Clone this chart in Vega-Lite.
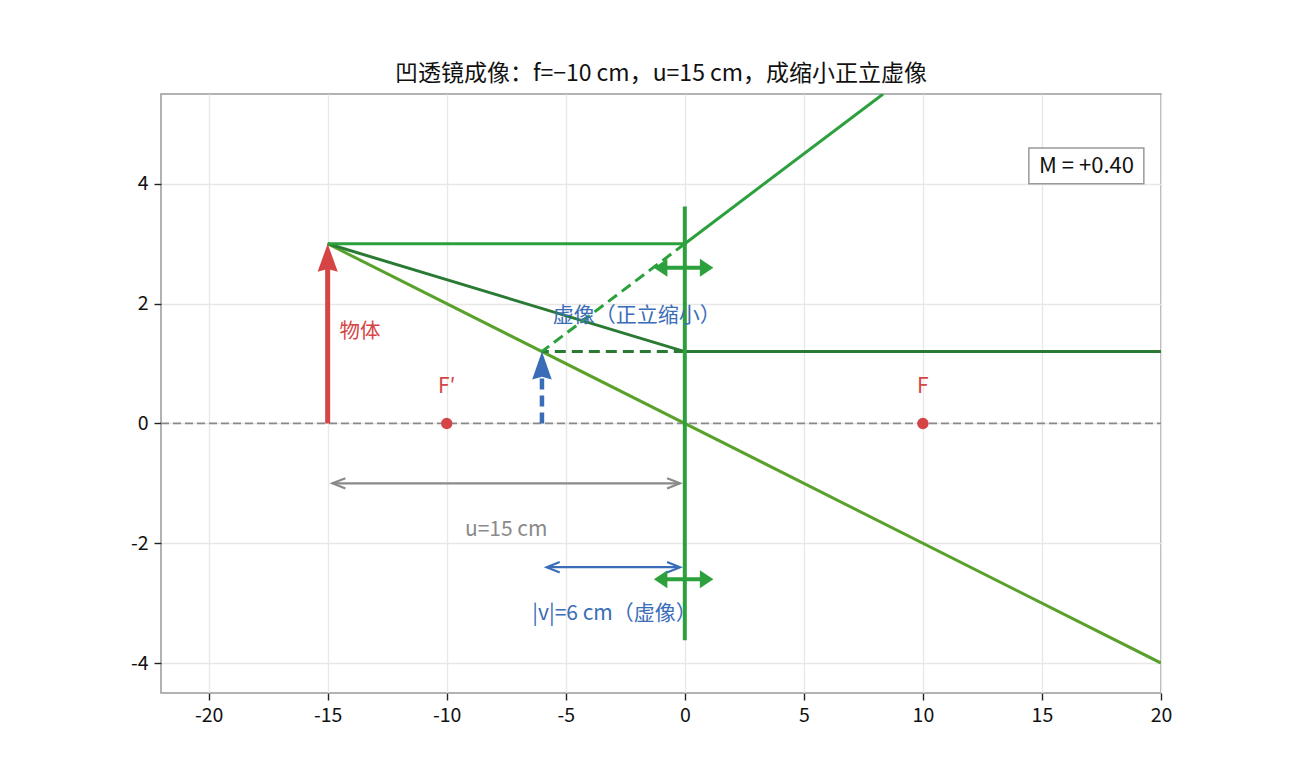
{
  "$schema": "https://vega.github.io/schema/vega-lite/v6.json",
  "width": 1000,
  "height": 599,
  "autosize": "none",
  "padding": {"left": 161, "top": 94, "right": 129, "bottom": 87},
  "background": "white",
  "title": {
    "text": "凹透镜成像：f=−10 cm，u=15 cm，成缩小正立虚像",
    "font": "Noto Sans CJK SC",
    "fontSize": 23,
    "fontWeight": "normal",
    "color": "#111111",
    "offset": 8,
    "anchor": "middle"
  },
  "config": {
    "view": {"stroke": "#999999", "strokeWidth": 1.5},
    "axis": {
      "domain": false,
      "grid": true,
      "gridColor": "#e8e8e8",
      "gridWidth": 1.4,
      "tickColor": "#222222",
      "tickSize": 7,
      "tickWidth": 1.4,
      "labelFont": "Noto Sans CJK SC",
      "labelFontSize": 19.5,
      "labelColor": "#111111",
      "labelPadding": 6,
      "labelFlush": false,
      "title": null
    },
    "text": {"font": "Noto Sans CJK SC"}
  },
  "datasets": {
    "segs": [
      {"id": "axis", "x": -22, "y": 0, "x2": 20, "y2": 0},
      {"id": "par", "x": -15, "y": 3, "x2": 0, "y2": 3},
      {"id": "par", "x": 0, "y": 3, "x2": 8.33, "y2": 5.5},
      {"id": "parExt", "x": 0, "y": 3, "x2": -6, "y2": 1.2},
      {"id": "foc", "x": -15, "y": 3, "x2": 0, "y2": 1.2},
      {"id": "foc", "x": 0, "y": 1.2, "x2": 20, "y2": 1.2},
      {"id": "focExt", "x": 0, "y": 1.2, "x2": -6, "y2": 1.2},
      {"id": "cen", "x": -15, "y": 3, "x2": 20, "y2": -4},
      {"id": "lens", "x": 0, "y": 3.62, "x2": 0, "y2": -3.62},
      {"id": "lensArrow", "x": -1.1, "y": 2.6, "x2": 1.0, "y2": 2.6},
      {"id": "lensArrow", "x": -1.1, "y": -2.6, "x2": 1.0, "y2": -2.6},
      {"id": "obj", "x": -15, "y": 0, "x2": -15, "y2": 2.7},
      {"id": "img", "x": -6, "y": 0, "x2": -6, "y2": 0.9},
      {"id": "u", "x": -14.8, "y": -1, "x2": -0.2, "y2": -1},
      {"id": "v", "x": -5.8, "y": -2.4, "x2": -0.2, "y2": -2.4}
    ],
    "heads": [
      {"id": "obj", "x": -15, "y": 3},
      {"id": "img", "x": -6, "y": 1.2},
      {"id": "lensL", "x": -1.3, "y": 2.6},
      {"id": "lensR", "x": 1.2, "y": 2.6},
      {"id": "lensL", "x": -1.3, "y": -2.6},
      {"id": "lensR", "x": 1.2, "y": -2.6},
      {"id": "uL", "x": -14.8, "y": -1},
      {"id": "uR", "x": -0.2, "y": -1},
      {"id": "vL", "x": -5.8, "y": -2.4},
      {"id": "vR", "x": -0.2, "y": -2.4}
    ],
    "foci": [
      {"label": "F′", "x": -10, "y": 0},
      {"label": "F", "x": 10, "y": 0}
    ],
    "labels": [
      {"id": "obj", "text": "物体", "x": -14.5, "y": 1.52},
      {"id": "img", "text": "虚像（正立缩小）", "x": -5.55, "y": 1.8},
      {"id": "u", "text": "u=15 cm", "x": -7.5, "y": -1.78},
      {"id": "v", "text": "|v|=6 cm（虚像）", "x": -2.95, "y": -3.18}
    ],
    "mbox": [
      {"text": "M = +0.40", "x": 14.45, "x2": 19.28, "y": 4.0, "y2": 4.6, "cx": 16.87, "cy": 4.3}
    ]
  },
  "layer": [
    {
      "data": {"name": "segs"},
      "transform": [{"filter": "datum.id === 'axis'"}],
      "mark": {"type": "rule", "color": "#8a8a8a", "strokeWidth": 1.8, "strokeDash": [8, 4]},
      "encoding": {
        "x": {
          "field": "x", "type": "quantitative",
          "scale": {"domain": [-22, 20], "nice": false, "zero": false},
          "axis": {"values": [-20, -15, -10, -5, 0, 5, 10, 15, 20], "labelExpr": "'' + datum.value"}
        },
        "x2": {"field": "x2"},
        "y": {
          "field": "y", "type": "quantitative",
          "scale": {"domain": [-4.5, 5.5], "nice": false, "zero": false},
          "axis": {"values": [-4, -2, 0, 2, 4], "labelExpr": "'' + datum.value"}
        },
        "y2": {"field": "y2"}
      }
    },
    {
      "data": {"name": "segs"},
      "transform": [{"filter": "datum.id === 'cen'"}],
      "mark": {"type": "rule", "color": "#5aa12c", "strokeWidth": 3, "clip": true},
      "encoding": {
        "x": {"field": "x", "type": "quantitative"}, "x2": {"field": "x2"},
        "y": {"field": "y", "type": "quantitative"}, "y2": {"field": "y2"}
      }
    },
    {
      "data": {"name": "segs"},
      "transform": [{"filter": "datum.id === 'foc'"}],
      "mark": {"type": "rule", "color": "#2b7a34", "strokeWidth": 3, "clip": true},
      "encoding": {
        "x": {"field": "x", "type": "quantitative"}, "x2": {"field": "x2"},
        "y": {"field": "y", "type": "quantitative"}, "y2": {"field": "y2"}
      }
    },
    {
      "data": {"name": "segs"},
      "transform": [{"filter": "datum.id === 'focExt'"}],
      "mark": {"type": "rule", "color": "#2b7a34", "strokeWidth": 3, "strokeDash": [11, 6], "clip": true},
      "encoding": {
        "x": {"field": "x", "type": "quantitative"}, "x2": {"field": "x2"},
        "y": {"field": "y", "type": "quantitative"}, "y2": {"field": "y2"}
      }
    },
    {
      "data": {"name": "segs"},
      "transform": [{"filter": "datum.id === 'par'"}],
      "mark": {"type": "rule", "color": "#2ca03c", "strokeWidth": 3, "clip": true},
      "encoding": {
        "x": {"field": "x", "type": "quantitative"}, "x2": {"field": "x2"},
        "y": {"field": "y", "type": "quantitative"}, "y2": {"field": "y2"}
      }
    },
    {
      "data": {"name": "segs"},
      "transform": [{"filter": "datum.id === 'parExt'"}],
      "mark": {"type": "rule", "color": "#2ca03c", "strokeWidth": 3, "strokeDash": [11, 6], "clip": true},
      "encoding": {
        "x": {"field": "x", "type": "quantitative"}, "x2": {"field": "x2"},
        "y": {"field": "y", "type": "quantitative"}, "y2": {"field": "y2"}
      }
    },
    {
      "data": {"name": "segs"},
      "transform": [{"filter": "datum.id === 'lens' || datum.id === 'lensArrow'"}],
      "mark": {"type": "rule", "color": "#2ca03c", "strokeWidth": 4},
      "encoding": {
        "x": {"field": "x", "type": "quantitative"}, "x2": {"field": "x2"},
        "y": {"field": "y", "type": "quantitative"}, "y2": {"field": "y2"}
      }
    },
    {
      "data": {"name": "heads"},
      "transform": [{"filter": "datum.id === 'lensL'"}],
      "mark": {"type": "point", "filled": true, "color": "#2ca03c", "opacity": 1, "size": 324, "shape": "M0,0 L1.5,-1 L1.5,1 Z"},
      "encoding": {"x": {"field": "x", "type": "quantitative"}, "y": {"field": "y", "type": "quantitative"}}
    },
    {
      "data": {"name": "heads"},
      "transform": [{"filter": "datum.id === 'lensR'"}],
      "mark": {"type": "point", "filled": true, "color": "#2ca03c", "opacity": 1, "size": 324, "shape": "M0,0 L-1.5,-1 L-1.5,1 Z"},
      "encoding": {"x": {"field": "x", "type": "quantitative"}, "y": {"field": "y", "type": "quantitative"}}
    },
    {
      "data": {"name": "segs"},
      "transform": [{"filter": "datum.id === 'obj'"}],
      "mark": {"type": "rule", "color": "#d64545", "strokeWidth": 5},
      "encoding": {
        "x": {"field": "x", "type": "quantitative"}, "x2": {"field": "x2"},
        "y": {"field": "y", "type": "quantitative"}, "y2": {"field": "y2"}
      }
    },
    {
      "data": {"name": "heads"},
      "transform": [{"filter": "datum.id === 'obj'"}],
      "mark": {"type": "point", "filled": true, "color": "#d64545", "opacity": 1, "size": 784, "shape": "M0,0 L0.72,2 L0,1.8 L-0.72,2 Z"},
      "encoding": {"x": {"field": "x", "type": "quantitative"}, "y": {"field": "y", "type": "quantitative"}}
    },
    {
      "data": {"name": "segs"},
      "transform": [{"filter": "datum.id === 'img'"}],
      "mark": {"type": "rule", "color": "#3a6db8", "strokeWidth": 4.5, "strokeDash": [11, 6]},
      "encoding": {
        "x": {"field": "x", "type": "quantitative"}, "x2": {"field": "x2"},
        "y": {"field": "y", "type": "quantitative"}, "y2": {"field": "y2"}
      }
    },
    {
      "data": {"name": "heads"},
      "transform": [{"filter": "datum.id === 'img'"}],
      "mark": {"type": "point", "filled": true, "color": "#3a6db8", "opacity": 1, "size": 784, "shape": "M0,0 L0.7,2 L0,1.8 L-0.7,2 Z"},
      "encoding": {"x": {"field": "x", "type": "quantitative"}, "y": {"field": "y", "type": "quantitative"}}
    },
    {
      "data": {"name": "segs"},
      "transform": [{"filter": "datum.id === 'u'"}],
      "mark": {"type": "rule", "color": "#8a8a8a", "strokeWidth": 2.2},
      "encoding": {
        "x": {"field": "x", "type": "quantitative"}, "x2": {"field": "x2"},
        "y": {"field": "y", "type": "quantitative"}, "y2": {"field": "y2"}
      }
    },
    {
      "data": {"name": "segs"},
      "transform": [{"filter": "datum.id === 'v'"}],
      "mark": {"type": "rule", "color": "#3a6db8", "strokeWidth": 2.2},
      "encoding": {
        "x": {"field": "x", "type": "quantitative"}, "x2": {"field": "x2"},
        "y": {"field": "y", "type": "quantitative"}, "y2": {"field": "y2"}
      }
    },
    {
      "data": {"name": "heads"},
      "transform": [{"filter": "datum.id === 'uL' || datum.id === 'uR' || datum.id === 'vL' || datum.id === 'vR'"}],
      "mark": {"type": "point", "filled": false, "opacity": 1, "strokeWidth": 2.2, "size": 169},
      "encoding": {
        "x": {"field": "x", "type": "quantitative"},
        "y": {"field": "y", "type": "quantitative"},
        "shape": {
          "field": "id", "type": "nominal", "legend": null,
          "scale": {
            "domain": ["uL", "uR", "vL", "vR"],
            "range": ["M2,-0.8 L0,0 L2,0.8", "M-2,-0.8 L0,0 L-2,0.8", "M2,-0.8 L0,0 L2,0.8", "M-2,-0.8 L0,0 L-2,0.8"]
          }
        },
        "color": {
          "field": "id", "type": "nominal", "legend": null,
          "scale": {"domain": ["uL", "uR", "vL", "vR"], "range": ["#8a8a8a", "#8a8a8a", "#3a6db8", "#3a6db8"]}
        }
      }
    },
    {
      "data": {"name": "foci"},
      "mark": {"type": "circle", "color": "#d64545", "opacity": 1, "size": 130},
      "encoding": {"x": {"field": "x", "type": "quantitative"}, "y": {"field": "y", "type": "quantitative"}}
    },
    {
      "data": {"name": "foci"},
      "mark": {"type": "text", "color": "#d64545", "fontSize": 21, "dy": -36, "align": "center", "baseline": "middle"},
      "encoding": {
        "x": {"field": "x", "type": "quantitative"},
        "y": {"field": "y", "type": "quantitative"},
        "text": {"field": "label"}
      }
    },
    {
      "data": {"name": "labels"},
      "transform": [{"filter": "datum.id === 'obj'"}],
      "mark": {"type": "text", "color": "#d64545", "fontSize": 20.5, "align": "left", "baseline": "middle"},
      "encoding": {
        "x": {"field": "x", "type": "quantitative"},
        "y": {"field": "y", "type": "quantitative"},
        "text": {"field": "text"}
      }
    },
    {
      "data": {"name": "labels"},
      "transform": [{"filter": "datum.id === 'img'"}],
      "mark": {"type": "text", "color": "#3a6db8", "fontSize": 21, "align": "left", "baseline": "middle"},
      "encoding": {
        "x": {"field": "x", "type": "quantitative"},
        "y": {"field": "y", "type": "quantitative"},
        "text": {"field": "text"}
      }
    },
    {
      "data": {"name": "labels"},
      "transform": [{"filter": "datum.id === 'u'"}],
      "mark": {"type": "text", "color": "#8a8a8a", "fontSize": 21, "align": "center", "baseline": "middle"},
      "encoding": {
        "x": {"field": "x", "type": "quantitative"},
        "y": {"field": "y", "type": "quantitative"},
        "text": {"field": "text"}
      }
    },
    {
      "data": {"name": "labels"},
      "transform": [{"filter": "datum.id === 'v'"}],
      "mark": {"type": "text", "color": "#3a6db8", "fontSize": 21, "align": "center", "baseline": "middle"},
      "encoding": {
        "x": {"field": "x", "type": "quantitative"},
        "y": {"field": "y", "type": "quantitative"},
        "text": {"field": "text"}
      }
    },
    {
      "data": {"name": "mbox"},
      "mark": {"type": "rect", "fill": "white", "stroke": "#999999", "strokeWidth": 1.5},
      "encoding": {
        "x": {"field": "x", "type": "quantitative"}, "x2": {"field": "x2"},
        "y": {"field": "y", "type": "quantitative"}, "y2": {"field": "y2"}
      }
    },
    {
      "data": {"name": "mbox"},
      "mark": {"type": "text", "color": "#111111", "fontSize": 22, "align": "center", "baseline": "middle"},
      "encoding": {
        "x": {"field": "cx", "type": "quantitative"},
        "y": {"field": "cy", "type": "quantitative"},
        "text": {"field": "text"}
      }
    }
  ]
}
